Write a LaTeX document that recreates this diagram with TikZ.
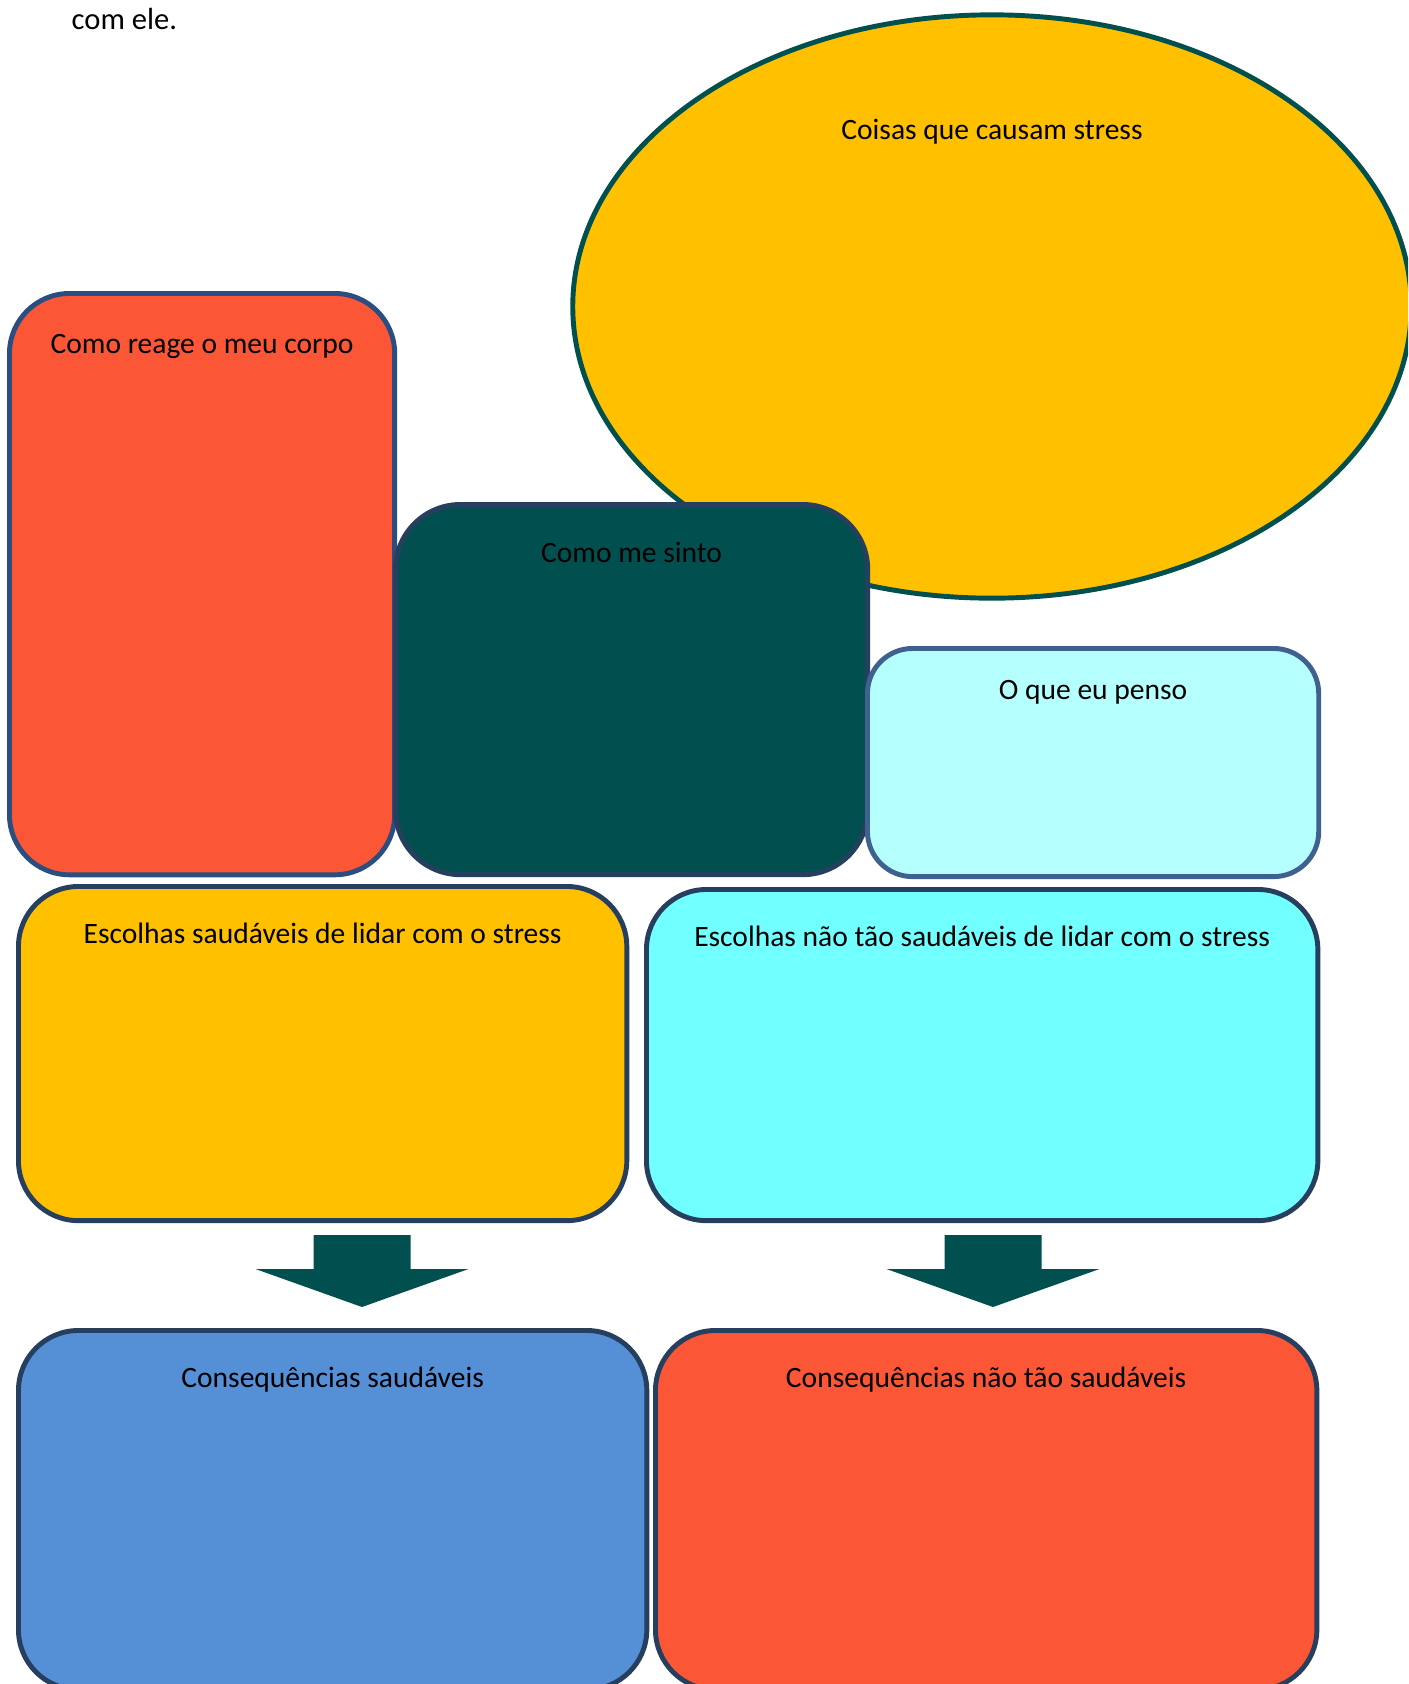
\documentclass[tikz,border=0pt]{standalone}
\usepackage{fontspec}
\setmainfont{Carlito}
\usetikzlibrary{shapes.geometric, calc}
\definecolor{stressGold}{HTML}{FFC000}
\definecolor{bodyRed}{HTML}{FB5636}
\definecolor{tealDark}{HTML}{024F4F}
\definecolor{thinkCyan}{HTML}{B5FFFF}
\definecolor{badCyan}{HTML}{71FFFF}
\definecolor{goodBlue}{HTML}{558FD5}
\definecolor{navyLine}{HTML}{263F5F}
\definecolor{blueLine}{HTML}{2A4E80}
\definecolor{softLine}{HTML}{3E6190}
\definecolor{tealLine}{HTML}{01504E}
\tikzset{
  box/.style={rectangle, rounded corners=0.6cm, line width=1.4pt,
              draw=navyLine, anchor=north west, inner sep=0pt},
  lbl/.style={anchor=base, inner sep=0pt, font=\fontsize{8.4}{10}\selectfont},
  bigarrow/.style={fill=tealDark},
}
\begin{document}
\begin{tikzpicture}[x=0.01cm, y=-0.01cm]
  \useasboundingbox (0,0) rectangle (1408,1684);
  \clip (0,0) rectangle (1408,1684);
  \node[lbl, anchor=base west, font=\fontsize{8.7}{10}\selectfont] (topo) at (71,29) {com ele.};
  % bubble
  \node[ellipse, draw=tealLine, fill=stressGold, line width=1.4pt, inner sep=0pt,
        minimum width=8.38cm, minimum height=5.83cm] (stress) at (992,306.5) {};
  \node[lbl] (stressT) at ($(stress.north)+(0,127)$) {Coisas que causam stress};
  % top row
  \node[box, draw=blueLine, fill=bodyRed, minimum width=3.85cm, minimum height=5.81cm]
    (corpo) at (7,291) {};
  \node[lbl] (corpoT) at ($(corpo.north)+(0,62)$) {Como reage o meu corpo};
  \node[box, fill=tealDark, rounded corners=0.65cm, minimum width=4.72cm, minimum height=3.70cm]
    (sinto) at (393,502) {};
  \node[lbl] (sintoT) at ($(sinto.north)+(0,60)$) {Como me sinto};
  \node[box, draw=softLine, fill=thinkCyan, rounded corners=0.45cm,
        minimum width=4.51cm, minimum height=2.28cm] (penso) at (865,646) {};
  \node[lbl] (pensoT) at ($(penso.north)+(0,53)$) {O que eu penso};
  % choices
  \node[box, fill=stressGold, minimum width=6.08cm, minimum height=3.34cm]
    (escS) at (16,884) {};
  \node[lbl] (escST) at ($(escS.north)+(0,59)$) {Escolhas saudáveis de lidar com o stress};
  \node[box, fill=badCyan, minimum width=6.71cm, minimum height=3.31cm]
    (escN) at (644,887) {};
  \node[lbl] (escNT) at ($(escN.north)+(0,59)$) {Escolhas não tão saudáveis de lidar com o stress};
  % arrows
  \coordinate (tipS) at (362,1307);
  \coordinate (tipN) at (993,1307);
  \foreach \t in {tipS, tipN} {
    \fill[bigarrow] (\t) -- ++(-106.5,-38) -- ++(58,0) -- ++(0,-34) -- ++(97,0)
      -- ++(0,34) -- ++(58,0) -- cycle;
  }
  % consequences
  \node[box, fill=goodBlue, minimum width=6.28cm, minimum height=3.59cm]
    (conS) at (16,1328) {};
  \node[lbl] (conST) at ($(conS.north)+(0,59)$) {Consequências saudáveis};
  \node[box, fill=bodyRed, minimum width=6.61cm, minimum height=3.59cm]
    (conN) at (653,1328) {};
  \node[lbl] (conNT) at ($(conN.north)+(0,59)$) {Consequências não tão saudáveis};
\end{tikzpicture}
\end{document}
